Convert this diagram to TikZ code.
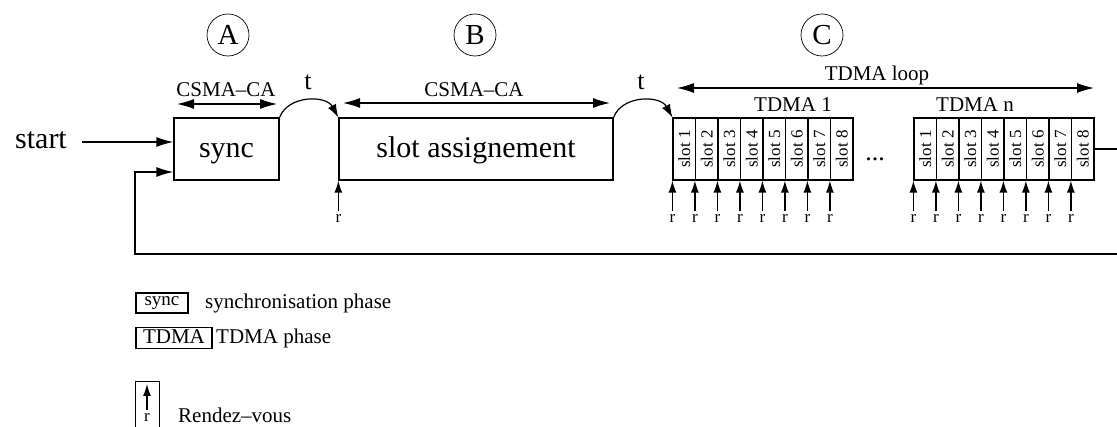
\documentclass[tikz,border=0pt]{standalone}
\usepackage{fontspec}
\setmainfont{Liberation Serif}
\usetikzlibrary{arrows.meta}
\newcommand{\fsz}[1]{\fontsize{#1}{#1}\selectfont}
\begin{document}
\begin{tikzpicture}[x=1pt,y=-1pt,
  box/.style={draw, line width=1.3pt, inner sep=0pt},
  mainbox/.style={box, minimum height=62pt, font=\fsz{30}, text height=21pt, text depth=4pt},
  slotbox/.style={draw, line width=1.2pt, minimum width=22.5pt, minimum height=62pt, inner sep=0pt, font=\fsz{17}},
  lbl/.style={inner sep=0pt},
  phase/.style={draw, circle, line width=0.7pt, minimum size=42pt, inner sep=0pt, font=\fsz{29}},
  arr/.style={line width=1.3pt, -{Latex[length=17pt,width=10pt]}},
  darr/.style={line width=1.3pt, {Latex[length=17pt,width=10pt]}-{Latex[length=17pt,width=10pt]}},
  rarr/.style={line width=1.3pt, -{Latex[length=12pt,width=8pt]}},
  tarr/.style={line width=1.2pt, -{Latex[length=13pt,width=9pt]}},
  rlbl/.style={inner xsep=0pt, inner ysep=3pt, font=\fsz{17}, anchor=north},
]
\useasboundingbox (0,0) rectangle (1117,427);

% phase circles
\node[phase] (pA) at (228,35) {A};
\node[phase] (pB) at (475,35) {B};
\node[phase] (pC) at (822,35) {C};

% main boxes
\node[mainbox, minimum width=105pt] (sync) at (226.5,149) {sync};
\node[mainbox, minimum width=274pt] (slot) at (476,149) {slot assignement};

% start
\node[lbl, font=\fsz{30}] (start) at (41,140) {start};
\coordinate (st) at (82,142);
\draw[arr] (st) -- (st -| sync.west);

% CSMA-CA labels
\node[lbl, font=\fsz{21}] (csma1) at (226,90) {CSMA–CA};
\coordinate (c1l) at (177,104);
\coordinate (c1r) at (277,104);
\draw[darr] (c1l) -- (c1r);
\node[lbl, font=\fsz{21}] (csma2) at (474,90) {CSMA–CA};
\coordinate (c2l) at (343,103);
\coordinate (c2r) at (610,103);
\draw[darr] (c2l) -- (c2r);

% t labels
\node[lbl, font=\fsz{26}] (t1) at (308,82) {t};
\node[lbl, font=\fsz{26}] (t2) at (641,82) {t};

% TDMA loop
\node[lbl, font=\fsz{21}] (loop) at (877,75) {TDMA loop};
\coordinate (ll) at (677,88);
\coordinate (lr) at (1094,88);
\draw[darr] (ll) -- (lr);

% TDMA blocks
\node[lbl, font=\fsz{21}] (tdma1) at (793,105) {TDMA 1};
\node[lbl, font=\fsz{21}] (tdman) at (975,105) {TDMA n};
\foreach \i in {1,...,8} {
  \node[slotbox] (a\i) at ({673+22.5*(\i-0.5)},149) {\rotatebox{90}{slot \i}};
  \node[rlbl] (ra\i) at (a\i.south west |- 0,211) {r};
  \draw[rarr] (ra\i.north) -- (a\i.south west);
  \node[slotbox] (b\i) at ({914+22.5*(\i-0.5)},149) {\rotatebox{90}{slot \i}};
  \node[rlbl] (rb\i) at (b\i.south west |- 0,211) {r};
  \draw[rarr] (rb\i.north) -- (b\i.south west);
}
\node[lbl, font=\fsz{26}] (dots) at (875,159) {...};

% rendez-vous under slot assignment
\node[rlbl] (rs) at (slot.south west |- 0,211) {r};
\draw[rarr] (rs.north) -- (slot.south west);

% transitions t
\draw[tarr] (sync.north east) .. controls (288,95) and (326,95) .. (slot.north west);
\draw[tarr] (slot.north east) .. controls (622,95) and (660,95) .. (a1.north west);

% loop back
\draw[arr] (b8.east) -- (1125,149) |- (135,254) |- ([yshift=-23pt]sync.west);

% legend
\node[box, line width=1.1pt, minimum width=52pt, minimum height=20pt, font=\fsz{19}, text height=10pt, text depth=4pt] (lsync) at (162,303) {sync};
\node[lbl, anchor=west, font=\fsz{21}] (lsynct) at (205,303) {synchronisation phase};
\node[box, line width=1.1pt, minimum width=76pt, minimum height=21pt, font=\fsz{21}, text height=14pt, text depth=2pt] (ltdma) at (174,338) {TDMA};
\node[lbl, anchor=west, font=\fsz{21}] (ltdmat) at (216,338) {TDMA phase};
\node[box, line width=1.1pt, minimum width=24pt, minimum height=60pt, anchor=north west] (lrdv) at (135,381) {};
\node[rlbl] (lr) at (147,410) {r};
\coordinate (lrt) at (147,384);
\draw[rarr] (lr.north) -- (lrt);
\node[lbl, anchor=west, font=\fsz{21}] (lrdvt) at (178,415) {Rendez–vous};
\end{tikzpicture}
\end{document}
